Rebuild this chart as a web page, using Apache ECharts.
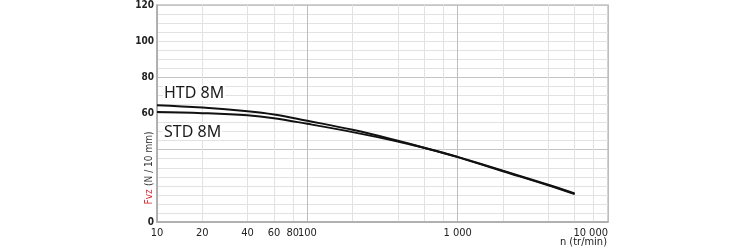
<!DOCTYPE html>
<html>
<head>
<meta charset="utf-8">
<script src="https://cdn.jsdelivr.net/npm/echarts@6/dist/echarts.min.js"></script>
<style>
  html, body { margin: 0; padding: 0; background: #fff; }
  #chart { width: 750px; height: 250px; }
</style>
</head>
<body>
<div id="chart"></div>
<script>
// Rotational speed (tr/min) at which each curve is sampled
const speeds = [10, 20, 40, 60, 100, 200, 400, 600, 800, 1000, 2000, 4000, 6000];
// Permissible force per 10 mm belt width (N)
const htd8m = [64.6, 63.3, 61.3, 59.5, 56.0, 51.0, 45.0, 41.1, 38.3, 36.0, 28.3, 20.6, 15.8];
const std8m = [60.8, 60.2, 59.0, 57.4, 54.3, 49.7, 44.5, 40.9, 38.2, 35.9, 28.1, 20.3, 15.4];

// Grid positions on the log axis and the ones that carry a label
const xGridValues = [10, 20, 40, 60, 80, 100, 200, 400, 600, 800, 1000, 2000, 4000, 6000, 8000, 10000];
const xLabelValues = [10, 20, 40, 60, 80, 100, 1000, 10000];
const yLabelValues = [0, 60, 80, 100, 120];

const narrow = "'Liberation Sans Narrow', 'DejaVu Sans Condensed', 'Liberation Sans', sans-serif";
const curveFont = "'Noto Sans', 'Open Sans', sans-serif";

function pairs(ys) {
  return speeds.map((n, i) => [n, ys[i]]);
}

const chart = echarts.init(document.getElementById('chart'), null, { renderer: 'canvas' });

chart.setOption({
  animation: false,
  backgroundColor: '#ffffff',
  grid: {
    left: 157, top: 5, right: 142, bottom: 28,
    show: true, borderColor: '#c4c4c4', borderWidth: 1.5
  },
  xAxis: {
    type: 'log',
    logBase: 10,
    min: 10,
    max: 10000,
    axisLine: { show: true, lineStyle: { color: '#a8a8a8', width: 1.5 } },
    axisTick: { show: false, customValues: xGridValues },
    axisLabel: {
      customValues: xLabelValues,
      margin: 6,
      color: '#222',
      fontFamily: narrow,
      fontSize: 11,
      alignMaxLabel: 'right',
      formatter: v => (v >= 1000 ? String(v).replace(/(\d)(?=(\d{3})+$)/g, '$1 ') : String(v))
    },
    splitLine: {
      show: true,
      lineStyle: { color: ['#bdbdbd', '#e2e2e2', '#e2e2e2', '#e2e2e2', '#e2e2e2'], width: 1 }
    }
  },
  yAxis: {
    type: 'value',
    min: 0,
    max: 120,
    interval: 5,
    axisLine: { show: true, lineStyle: { color: '#a8a8a8', width: 1.5 } },
    axisTick: { show: false },
    axisLabel: {
      margin: 3,
      color: '#222',
      fontFamily: narrow,
      fontSize: 10,
      fontWeight: 'bold',
      formatter: v => (yLabelValues.indexOf(v) >= 0 ? String(v) : '')
    },
    splitLine: {
      show: true,
      lineStyle: {
        color: ['#c4c4c4', '#e2e2e2', '#e2e2e2', '#e2e2e2', '#e2e2e2', '#e2e2e2', '#e2e2e2', '#e2e2e2'],
        width: 1
      }
    }
  },
  series: [
    {
      name: 'HTD 8M',
      type: 'line',
      data: pairs(htd8m),
      smooth: 0.4,
      showSymbol: false,
      symbol: 'none',
      lineStyle: { color: '#111', width: 2 }
    },
    {
      name: 'STD 8M',
      type: 'line',
      data: pairs(std8m),
      smooth: 0.4,
      showSymbol: false,
      symbol: 'none',
      lineStyle: { color: '#111', width: 2 }
    }
  ],
  graphic: [
    {
      type: 'text', left: 163, top: 85, z: 10,
      style: {
        text: 'HTD 8M', font: "16px " + curveFont, fill: '#1a1a1a',
        backgroundColor: '#ffffff', padding: [0, 1]
      }
    },
    {
      type: 'text', left: 163, top: 124, z: 10,
      style: {
        text: 'STD 8M', font: "16px " + curveFont, fill: '#1a1a1a',
        backgroundColor: '#ffffff', padding: [0, 1]
      }
    },
    {
      type: 'text', x: 149, y: 168, rotation: Math.PI / 2,
      style: {
        text: '{r|Fvz} {k|(N / 10 mm)}',
        align: 'center', verticalAlign: 'middle',
        rich: {
          r: { fill: '#d9262c', fontFamily: narrow, fontSize: 10 },
          k: { fill: '#333', fontFamily: narrow, fontSize: 10 }
        }
      }
    },
    {
      type: 'text', right: 143, top: 237,
      style: { text: 'n (tr/min)', fontFamily: narrow, fontSize: 11, fill: '#222' }
    }
  ]
});
</script>
</body>
</html>
